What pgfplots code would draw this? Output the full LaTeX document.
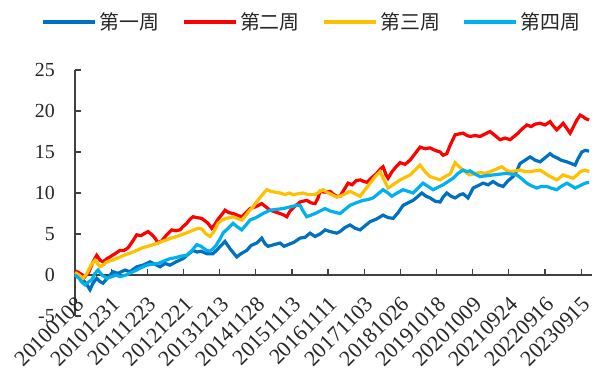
\documentclass[border=0pt]{standalone}
\usepackage{fontspec}
\setmainfont{Liberation Serif}
\newfontfamily\cjk{Noto Sans CJK SC}
\usepackage{pgfplots}
\usepackage{pgfplotstable}
\pgfplotsset{compat=1.18}
\definecolor{sA}{HTML}{0070C0}
\definecolor{sB}{HTML}{FF0000}
\definecolor{sC}{HTML}{FFC000}
\definecolor{sD}{HTML}{00B0F0}
\definecolor{axc}{HTML}{404040}
\tikzset{ser/.style={line width=3.2bp}}
\pgfplotsset{geom/.style={at={(0,0)}, anchor=south west,
  scale only axis, width=517bp, height=246bp,
  xmin=0, xmax=715, ymin=-5, ymax=25, clip=false}}
% columns: px = horizontal pixel position, v = value
\pgfplotstableread{
px v
75 0.5
79 0.2
83 -0.6
87 -1.2
90 -1.8
93 -1.0
96.7 -0.4
100 -0.8
103 -1.0
108 -0.3
113 0.4
118 0.2
125 0.6
130 0.4
136.7 1.0
143 1.2
150 1.6
155 1.3
160 1.0
165 1.4
170 1.2
176 1.6
183 2.0
188 2.5
193 3.0
197 2.8
201 2.9
206.7 2.6
213 2.6
218 3.2
225 4.1
230 3.2
236.7 2.2
241 2.6
246.7 3.0
251 3.6
256.7 3.9
261.7 4.5
265 3.8
268 3.5
274 3.7
280 3.9
284 3.5
288 3.7
294 4.0
300 4.5
305 4.6
310 5.1
315 4.7
320 5.0
325 5.5
330 5.3
336.7 5.1
340 5.3
345 5.8
350 6.1
355 5.7
360 5.5
365 6.0
370 6.5
376 6.8
383 7.3
388 7.0
393 6.9
398 7.6
403 8.5
408 8.8
413 9.1
418 9.6
421.7 10.0
426 9.6
430 9.4
435 9.0
440 8.9
443 9.5
446.7 10.0
451 9.6
455 9.4
460 9.8
463 9.9
468 9.4
473 10.6
478 10.9
483 11.2
488 11.0
493 11.4
498 11.0
503 10.8
508 11.5
513 12.0
517 12.8
520 13.6
525 14.0
530 14.4
535 14.0
540 13.8
545 14.3
550 14.8
553 14.5
556.7 14.3
561 14.0
566.7 13.8
571 13.6
575 13.4
578 14.2
581.7 15.0
585 15.2
589 15.1
}\serA
\pgfplotstableread{
px v
75 0.5
80 0.2
85 -0.2
89 0.4
93 1.6
96.7 2.4
100 1.8
103 1.6
107 2.0
110 2.2
115 2.6
120 3.0
124 3.0
128 3.3
132 4.0
136.7 4.9
141 4.8
145 5.1
148 5.3
152 4.9
155 4.5
158 3.9
162 4.2
166 4.8
171.7 5.5
176 5.4
180 5.5
183 5.9
186.7 6.3
190 6.8
193 7.1
197 7.0
201.7 6.9
205 6.6
208 6.3
211.7 5.7
215 6.2
218 6.8
222 7.4
225 7.9
229 7.6
233 7.5
237 7.3
241.7 7.1
246 7.6
250 8.1
255 8.3
261.7 8.7
266 8.3
270 7.9
275 7.7
280 7.5
284 7.3
286.7 7.1
290 7.8
295 8.4
300 8.9
303 9.0
306.7 9.1
311 8.8
315 8.7
318 9.4
320 10.2
325 10.1
330 10.2
334 9.8
337 9.6
340 9.6
344 10.4
348 11.2
352 11.0
356 11.5
360 11.6
364 11.4
367 11.3
372 11.9
376.7 12.4
380 12.9
383 13.2
386 12.2
388 11.8
392 12.6
396 13.2
400 13.7
405 13.5
410 14.0
415 14.8
420 15.6
425 15.4
430 15.5
435 15.2
440 15.0
443 14.6
446.7 14.8
450 15.8
455 17.1
459 17.2
463 17.3
467 17.0
470 16.9
475 17.0
480 16.9
485 17.2
490 17.5
495 17.0
500 16.5
505 16.7
510 16.5
514 16.9
518 17.3
522 17.8
526.7 18.3
531 18.1
535 18.4
540 18.5
545 18.3
550 18.7
553 18.2
556.7 17.7
560 18.1
563 18.5
566 18.0
570 17.3
573 18.0
576.7 18.9
580 19.5
583 19.3
585 19.1
589 18.9
}\serB
\pgfplotstableread{
px v
75 0.3
79 0.0
83 -0.4
87 0.2
91 1.2
95 1.8
100 1.0
103 1.2
106.7 1.6
112 1.8
116 2.0
120 2.2
126 2.5
131 2.7
136.7 3.0
142 3.3
148 3.5
153 3.7
158 3.9
162 4.1
166.7 4.3
171 4.5
176.7 4.7
181 4.9
186 5.1
190 5.3
194 5.5
198 5.7
202 5.6
206 5.0
210 4.7
214 5.3
218 6.3
222 6.7
226 6.9
230 7.0
233 7.1
237 6.9
241.7 6.7
246 7.3
249 7.8
253 8.3
257 9.0
261 9.6
266.7 10.4
271 10.2
275 10.1
280 10.0
285 9.8
289 10.0
293 9.8
298 9.9
303 10.0
308 9.8
315 9.8
319 10.1
323 10.4
327 10.1
330 9.9
336.7 9.5
340 9.6
345 9.9
350 10.2
355 9.9
360 9.6
365 10.4
370 11.2
375 12.0
380 12.6
384 11.6
388 10.6
393 11.0
400 11.6
405 11.9
410 12.2
415 12.8
420 13.4
425 12.6
430 12.0
435 11.8
440 11.6
445 12.0
450 12.3
455 13.7
460 13.1
463 12.8
467 12.4
470 12.2
475 12.4
480 12.5
485 12.4
490 12.6
496 12.9
501.7 13.2
506 12.8
510 12.6
515 12.7
520 12.8
525 12.6
530 12.6
535 12.7
540 12.8
545 12.4
550 12.0
556.7 11.6
560 11.9
563 12.2
568 12.0
573 11.8
577 12.2
580 12.6
585 12.8
589 12.6
}\serC
\pgfplotstableread{
px v
75 0.0
79 -0.4
82 -0.9
85 -1.2
88 -0.9
91.7 -0.6
95 0.2
98 0.6
102 0.0
106.7 -0.4
112 -0.2
116 0.0
120 -0.2
126 0.0
131 0.3
136.7 0.6
141 0.9
146.7 1.2
152 1.3
158 1.4
164 1.7
170 2.0
175 2.1
181 2.3
186.7 2.4
192 3.0
196.7 3.7
201 3.5
206.7 3.0
210 2.9
213 3.2
216 3.6
220 4.4
223 5.1
228 5.7
233 6.3
237 5.9
241.7 5.5
246 6.1
250 6.7
256 7.0
263 7.5
270 7.9
276 8.0
283 8.1
290 8.3
296.7 8.5
300 8.5
303 7.8
306.7 7.1
311 7.3
315 7.5
320 7.8
325 8.1
330 7.8
336.7 7.6
340 7.5
345 8.0
350 8.5
356 8.8
363 9.1
368 9.2
373 9.4
378 9.9
383 10.4
388 10.0
391.7 9.6
397 10.0
403 10.4
408 10.2
413 10.0
418 10.6
423 11.2
428 10.8
433 10.4
438 10.7
443 11.0
448 11.4
453 11.8
458 12.4
463 12.8
467 12.6
470 12.7
475 12.3
480 12.0
486 12.1
493 12.2
500 12.3
506.7 12.4
511 12.3
516.7 12.2
521 11.8
526.7 11.2
531 10.9
536.7 10.6
541 10.8
546.7 10.8
551 10.6
556.7 10.4
561 10.8
566.7 11.2
571 10.9
575 10.6
580 10.9
585 11.2
589 11.3
}\serD
\begin{document}
\begin{tikzpicture}
\useasboundingbox (-75bp,-59bp) rectangle (525bp,316bp);
% main chart
\begin{axis}[geom,
  axis x line=middle, axis y line=left,
  axis line style={-, line width=1.2bp, axc},
  hide obscured x ticks=false, hide obscured y ticks=false,
  xtick={0,50,...,700},
  xticklabels={20100108,20101231,20111223,20121221,20131213,20141128,20151113,20161111,20171103,20181026,20191018,20201009,20210924,20220916,20230915},
  ytick={-5,0,...,25},
  xtick align=inside, ytick align=inside,
  major tick length=6bp,
  tick style={line width=1.2bp, axc},
  /pgf/number format/assume math mode=true,
  yticklabel style={font=\fontsize{20}{24}\selectfont, inner xsep=0pt, text=black!85},
  yticklabel shift=20bp,
  xticklabel style={font=\fontsize{22}{26}\selectfont, rotate=45, anchor=north east, inner sep=0pt, text=black!85},
  xticklabel shift=20bp,
]
% horizontal axis line at zero and its tick marks
\addplot[axc, line width=1.2bp, mark=none, forget plot] coordinates {(0,0) (715,0)};
\addplot[axc, line width=1.2bp, ycomb, mark=none, forget plot] coordinates {(50,0.73) (100,0.73) (150,0.73) (200,0.73) (250,0.73) (300,0.73) (350,0.73) (400,0.73) (450,0.73) (500,0.73) (550,0.73) (600,0.73) (650,0.73) (700,0.73)};
\addplot[sA, ser] table[x expr=(\thisrow{px}-75)/0.7229, y=v] {\serA};
\addplot[sB, ser] table[x expr=(\thisrow{px}-75)/0.7229, y=v] {\serB};
\addplot[sC, ser] table[x expr=(\thisrow{px}-75)/0.7229, y=v] {\serC};
\addplot[sD, ser] table[x expr=(\thisrow{px}-75)/0.7229, y=v] {\serD};
\end{axis}
% legend
\begin{axis}[geom, hide axis,
  legend columns=4,
  legend style={at={(0.459,1.195)}, anchor=center, draw=none, fill=none,
    font=\cjk\fontsize{20}{24}\selectfont, text=black!85,
    nodes={inner xsep=2.5bp, inner ysep=1bp},
    /tikz/every even column/.append style={column sep=20bp}},
  legend image code/.code={\draw[#1, line width=3.5bp] (0bp,0bp) -- (52bp,0bp);},
]
\addlegendimage{sA}
\addlegendentry{第一周}
\addlegendimage{sB}
\addlegendentry{第二周}
\addlegendimage{sC}
\addlegendentry{第三周}
\addlegendimage{sD}
\addlegendentry{第四周}
\end{axis}
\end{tikzpicture}
\end{document}
